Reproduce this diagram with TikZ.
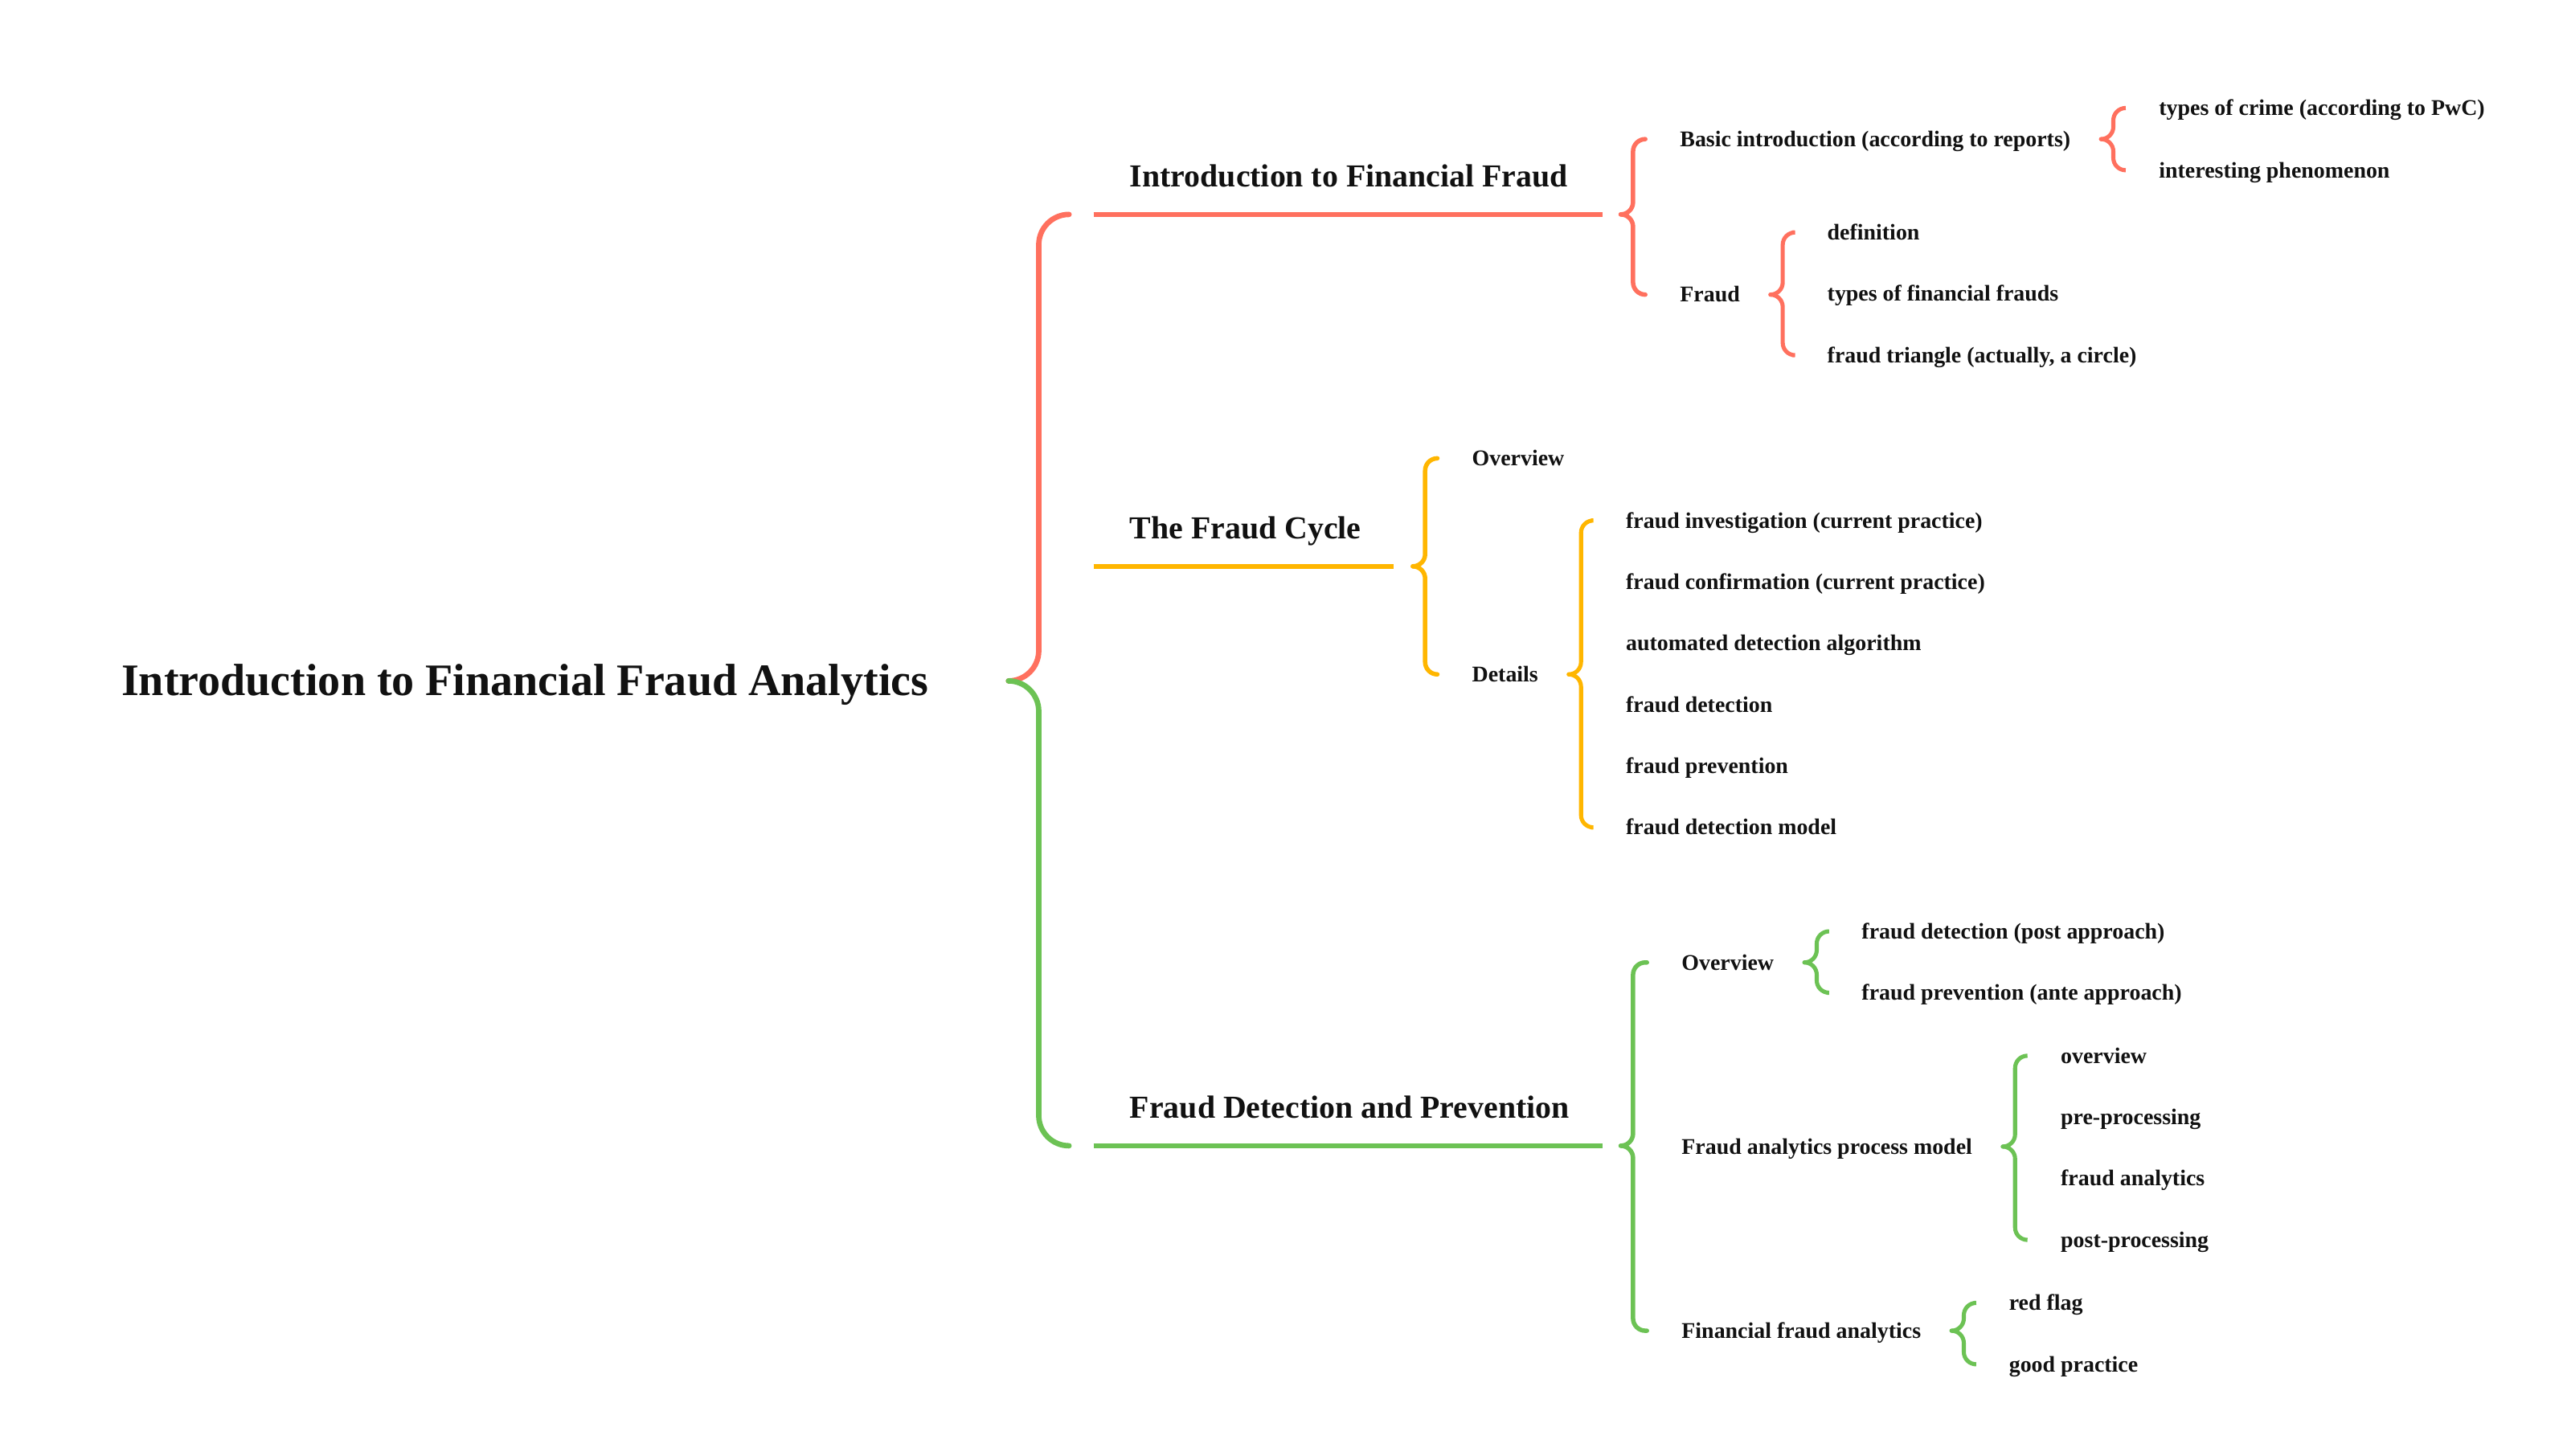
\documentclass[tikz,border=0pt]{standalone}
\usepackage{fontspec}
\setmainfont{Liberation Serif}
\usetikzlibrary{calc}
\definecolor{cred}{HTML}{FF705E}
\definecolor{corange}{HTML}{FFB600}
\definecolor{cgreen}{HTML}{6CC254}
\definecolor{ctext}{HTML}{111111}
\tikzset{
  leaf/.style={anchor=west, inner sep=0pt, text height=9.1pt, text depth=0pt,
    font=\bfseries\fontsize{13.7}{16}\selectfont, text=ctext},
  topic/.style={anchor=base west, inner sep=0pt,
    font=\bfseries\fontsize{19.55}{23}\selectfont, text=ctext},
  rootnode/.style={anchor=base west, inner sep=0pt,
    font=\bfseries\fontsize{27.5}{32}\selectfont, text=ctext},
  rootlink/.style={line width=3.3pt, line cap=round, rounded corners=18.5pt},
  bigbrace/.style={line width=2.7pt, line cap=round, rounded corners=7.5pt},
  smallbrace/.style={line width=2.5pt, line cap=round, rounded corners=7.5pt},
  topicline/.style={line width=3pt, line cap=butt},
}
\begin{document}
\begin{tikzpicture}[x=1pt, y=-1pt]
\useasboundingbox[fill=white] (0,0) rectangle (1568,889.5);

% root
\node[rootnode] (root) at (74,425) {Introduction to Financial Fraud Analytics};
\coordinate (rtip) at (616,416);

% topics
\node[topic] (ta) at (690,114) {Introduction to Financial Fraud};
\node[topic] (tb) at (690,329) {The Fraud Cycle};
\node[topic] (tc) at (690,683) {Fraud Detection and Prevention};

\coordinate (aL) at (668,131); \coordinate (aR) at (979,131); \coordinate (atip) at (990,131);
\coordinate (bL) at (668,346); \coordinate (bR) at (851,346); \coordinate (btip) at (863,346);
\coordinate (cL) at (668,700); \coordinate (cR) at (979,700); \coordinate (ctip) at (990,700);

\draw[cred, topicline] (aL) -- (aR);
\draw[corange, topicline] (bL) -- (bR);
\draw[cgreen, topicline] (cL) -- (cR);

% root brace
\draw[cred, rootlink] (rtip) -- ++(18.5,0) |- ($(aL)+(-15,0)$);
\draw[cgreen, rootlink] (rtip) -- ++(18.5,0) |- ($(cL)+(-15,0)$);

% ---- branch A
\node[leaf] (basic) at (1026,85) {Basic introduction (according to reports)};
\node[leaf] (fraud) at (1026,180) {Fraud};
\node[leaf] (crime) at (1318.6,66) {types of crime (according to PwC)};
\node[leaf] (phen) at (1318.6,104) {interesting phenomenon};
\node[leaf] (defn) at (1116,142) {definition};
\node[leaf] (tfin) at (1116,179.5) {types of financial frauds};
\node[leaf] (tri) at (1116,217) {fraud triangle (actually, a circle)};

\draw[cred, bigbrace] (atip) -- ++(7.5,0) |- ($(basic.west)+(-21,0)$);
\draw[cred, bigbrace] (atip) -- ++(7.5,0) |- ($(fraud.west)+(-21,0)$);
\coordinate (basictip) at ($(basic.east)+(18.5,0)$);
\draw[cred, smallbrace] (basictip) -- ++(7.5,0) |- ($(crime.west)+(-21,0)$);
\draw[cred, smallbrace] (basictip) -- ++(7.5,0) |- ($(phen.west)+(-21,0)$);
\coordinate (fraudtip) at ($(fraud.east)+(18.5,0)$);
\draw[cred, smallbrace] (fraudtip) -- ++(7.5,0) |- ($(defn.west)+(-21,0)$);
\draw[cred, smallbrace] (fraudtip) -- ++(7.5,0) |- ($(tri.west)+(-21,0)$);

% ---- branch B
\node[leaf] (ovb) at (899,280) {Overview};
\node[leaf] (det) at (899,412) {Details};
\node[leaf] (d1) at (993,318) {fraud investigation (current practice)};
\node[leaf] (d2) at (993,355.5) {fraud confirmation (current practice)};
\node[leaf] (d3) at (993,393) {automated detection algorithm};
\node[leaf] (d4) at (993,430.5) {fraud detection};
\node[leaf] (d5) at (993,468) {fraud prevention};
\node[leaf] (d6) at (993,505.5) {fraud detection model};

\draw[corange, bigbrace] (btip) -- ++(7.5,0) |- ($(ovb.west)+(-21,0)$);
\draw[corange, bigbrace] (btip) -- ++(7.5,0) |- ($(det.west)+(-21,0)$);
\coordinate (dettip) at ($(det.east)+(18.5,0)$);
\draw[corange, smallbrace] (dettip) -- ++(7.5,0) |- ($(d1.west)+(-21,0)$);
\draw[corange, smallbrace] (dettip) -- ++(7.5,0) |- ($(d6.west)+(-21,0)$);

% ---- branch C
\node[leaf] (ovc) at (1027,588) {Overview};
\node[leaf] (fapm) at (1027,700.5) {Fraud analytics process model};
\node[leaf] (ffa) at (1027,813) {Financial fraud analytics};
\node[leaf] (o1) at (1137,569) {fraud detection (post approach)};
\node[leaf] (o2) at (1137,606.5) {fraud prevention (ante approach)};
\node[leaf] (p1) at (1258.6,645) {overview};
\node[leaf] (p2) at (1258.6,682.5) {pre-processing};
\node[leaf] (p3) at (1258.6,720) {fraud analytics};
\node[leaf] (p4) at (1258.6,757.5) {post-processing};
\node[leaf] (f1) at (1227,796) {red flag};
\node[leaf] (f2) at (1227,833.5) {good practice};

\draw[cgreen, bigbrace] (ctip) -- ++(7.5,0) |- ($(ovc.west)+(-21,0)$);
\draw[cgreen, bigbrace] (ctip) -- ++(7.5,0) |- ($(ffa.west)+(-21,0)$);
\coordinate (ovctip) at ($(ovc.east)+(18.5,0)$);
\draw[cgreen, smallbrace] (ovctip) -- ++(7.5,0) |- ($(o1.west)+(-21,0)$);
\draw[cgreen, smallbrace] (ovctip) -- ++(7.5,0) |- ($(o2.west)+(-21,0)$);
\coordinate (fapmtip) at ($(fapm.east)+(18.5,0)$);
\draw[cgreen, smallbrace] (fapmtip) -- ++(7.5,0) |- ($(p1.west)+(-21,0)$);
\draw[cgreen, smallbrace] (fapmtip) -- ++(7.5,0) |- ($(p4.west)+(-21,0)$);
\coordinate (ffatip) at ($(ffa.east)+(18.5,0)$);
\draw[cgreen, smallbrace] (ffatip) -- ++(7.5,0) |- ($(f1.west)+(-21,0)$);
\draw[cgreen, smallbrace] (ffatip) -- ++(7.5,0) |- ($(f2.west)+(-21,0)$);
\end{tikzpicture}
\end{document}
